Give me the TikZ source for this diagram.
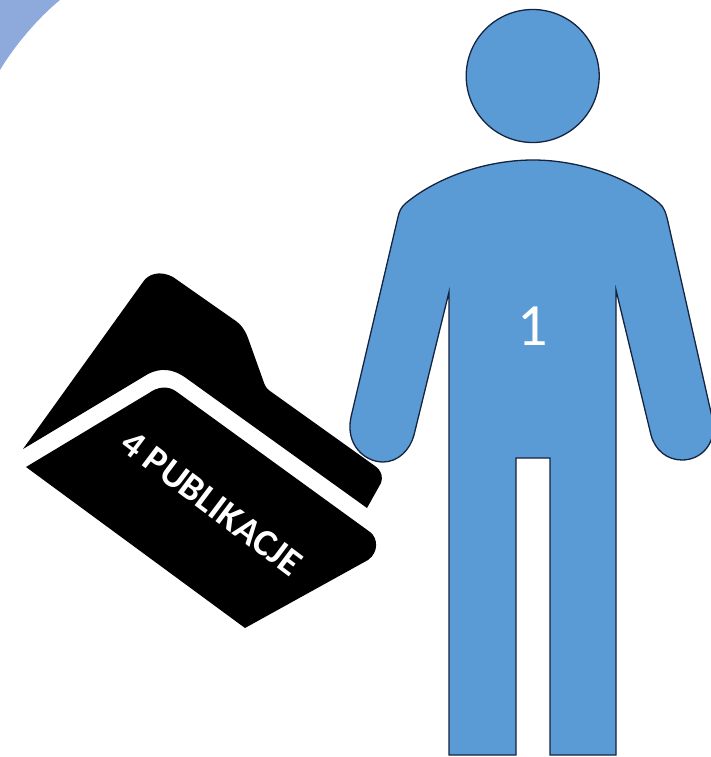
\documentclass[tikz,border=0pt]{standalone}
\usepackage{xcolor}
\usepackage{fontspec}
\setmainfont{Carlito}
\usepackage{tikz}
\usetikzlibrary{positioning}
\definecolor{figblue}{HTML}{5B9BD5}
\definecolor{figline}{HTML}{14233F}
\definecolor{cornerblue}{HTML}{8EA9DB}

\begin{document}
\begin{tikzpicture}[
  x=1pt, y=-1pt,
  figure/.style={draw=figline, fill=figblue, line width=1.3pt},
  folder/.style={fill=black},
  label/.style={text=white, inner sep=0pt}
]
\useasboundingbox (0,0) rectangle (710,757);

% Corner
\fill[cornerblue] (0,0) -- (60,0) .. controls (38,18) and (15,45) .. (0,70) -- cycle;

% Person
\node[figure, circle, minimum size=133pt, inner sep=0pt] (head) at (532.7,76) {};
\draw[figure] (533,160) .. controls (490,160) and (440,175) .. (406,203)
  .. controls (401,207) and (399,212) .. (398,217)
  -- (351,417) .. controls (345,445) and (365,462) .. (383,462)
  .. controls (398,462) and (410,450) .. (414,435)
  -- (449,292) -- (449,755) -- (516,755) -- (516,458) -- (550,458) -- (550,755) -- (616,755) -- (616,290)
  -- (651,435) .. controls (655,450) and (667,460) .. (682,460)
  .. controls (700,460) and (718,445) .. (712,417)
  -- (668,222) .. controls (666,213) and (664,207) .. (659,203)
  .. controls (625,175) and (576,160) .. cycle;
\node[label, font=\fontsize{60}{62}\selectfont] (n1) at (533,326) {1};

% Folder
\fill[folder] (23,449) -- (143,282) .. controls (148,274) and (160,270) .. (173,277)
  -- (233,319) .. controls (241,324) and (245,330) .. (248,338)
  -- (263,380) .. controls (265,386) and (266,388) .. (270,391)
  -- (375,466) .. controls (382,471) and (383,477) .. (381,483)
  -- (367,508) -- (186,378) .. controls (172,368) and (160,368) .. (148,374) -- cycle;
\fill[folder] (26,467) -- (149,393) .. controls (157,387) and (168,385) .. (177,392)
  -- (370,532) .. controls (378,538) and (379,552) .. (368,560)
  -- (245,628) -- cycle;
\node[label, rotate=-37, font=\bfseries\fontsize{38}{40}\selectfont] (n2) at (212,503) {4 PUBLIKACJE};

\end{tikzpicture}
\end{document}
